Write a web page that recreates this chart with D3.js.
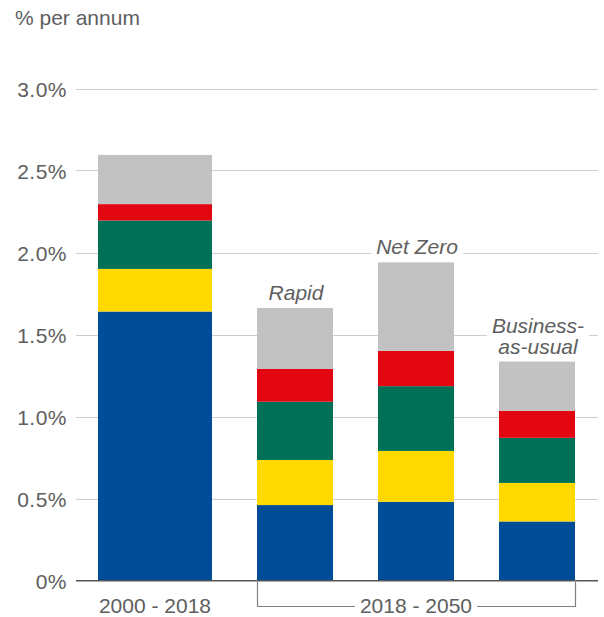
<!DOCTYPE html>
<html>
<head>
<meta charset="utf-8">
<script src="https://cdn.jsdelivr.net/npm/d3@7"></script>
<style>
  html, body { margin: 0; padding: 0; background: #fff; }
  svg { display: block; }
  text { font-family: "Liberation Sans", Arial, sans-serif; }
</style>
</head>
<body>
<svg id="chart" width="604" height="617"></svg>
<script>
// ---- data ----
const categories = ["2000 - 2018", "Rapid", "Net Zero", "Business-as-usual"];
const seriesNames = ["s1", "s2", "s3", "s4", "s5"];
const s1Values = [1.64, 0.46, 0.48, 0.36];   // blue
const s2Values = [0.26, 0.275, 0.31, 0.235]; // yellow
const s3Values = [0.295, 0.355, 0.395, 0.275]; // green
const s4Values = [0.10, 0.20, 0.215, 0.165]; // red
const s5Values = [0.30, 0.372, 0.54, 0.30];  // grey
const seriesColors = ["#004C97", "#FFD900", "#007157", "#E20613", "#C2C2C2"];
const yTicks = [0, 0.5, 1.0, 1.5, 2.0, 2.5, 3.0];
const yTickLabels = ["0%", "0.5%", "1.0%", "1.5%", "2.0%", "2.5%", "3.0%"];
const scenarioLabels = [[], ["Rapid"], ["Net Zero"], ["Business-", "as-usual"]];
const periodLabels = ["2000 - 2018", "2018 - 2050"];
const periodGroups = [[0], [1, 2, 3]];
const unitLabel = "% per annum";

// ---- build table ----
const allValues = [s1Values, s2Values, s3Values, s4Values, s5Values];
const table = categories.map((c, i) => {
  const row = { category: c };
  seriesNames.forEach((s, j) => row[s] = allValues[j][i]);
  return row;
});
const stacked = d3.stack().keys(seriesNames)(table);

// ---- layout ----
const textColor = "#5e5e5e";
const svg = d3.select("#chart");
const gridLeft = 76, gridRight = 598;
const y = d3.scaleLinear().domain([0, 3]).range([580.5, 88.5]);
const x = d3.scaleBand().domain(categories).range([136, 575]).paddingInner(45 / 121).paddingOuter(0);
const bw = x.bandwidth();
// first (historical) bar is wider and shifted left
const barGeom = (cat, i) => {
  if (i === 0) { const cx = x(cat) + bw / 2 - 19; const w = bw * 1.5; return [cx - w / 2, w]; }
  return [x(cat), bw];
};

// gridlines
svg.append("g").selectAll("line").data(yTicks.filter(t => t > 0)).join("line")
  .attr("x1", gridLeft).attr("x2", gridRight)
  .attr("y1", d => Math.round(y(d)) + 0.5).attr("y2", d => Math.round(y(d)) + 0.5)
  .attr("stroke", "#CDCDCD").attr("stroke-width", 1);

// y axis labels
const yAxis = d3.axisLeft(y).tickValues(yTicks).tickFormat((d, i) => yTickLabels[i]).tickSize(0).tickPadding(0);
const yg = svg.append("g").attr("transform", "translate(67,0)").call(yAxis);
yg.select(".domain").remove();
yg.selectAll("text").attr("font-family", "Liberation Sans, Arial, sans-serif")
  .attr("font-size", 21).attr("fill", textColor).attr("dy", "0.36em").attr("letter-spacing", 0.5);

// unit label
svg.append("text").attr("x", 15).attr("y", 25).attr("font-size", 21).attr("fill", textColor).text(unitLabel);

// bars
svg.append("g").selectAll("g").data(stacked).join("g")
  .attr("fill", (d, i) => seriesColors[i])
  .selectAll("rect").data(d => d).join("rect")
  .attr("x", (d, i) => barGeom(d.data.category, i)[0])
  .attr("width", (d, i) => barGeom(d.data.category, i)[1])
  .attr("y", d => y(d[1]))
  .attr("height", d => y(d[0]) - y(d[1]));

// scenario labels with white background
const totals = table.map(r => d3.sum(seriesNames, s => r[s]));
scenarioLabels.forEach((lines, i) => {
  if (!lines.length) return;
  const [bx, w] = barGeom(categories[i], i);
  const cx = bx + w / 2 + 1;
  const baseLast = y(totals[i]) - 8;
  const g = svg.append("g");
  const t = g.append("text").attr("text-anchor", "middle").attr("font-size", 21)
    .attr("font-style", "italic").attr("fill", textColor);
  lines.forEach((l, k) => {
    t.append("tspan").attr("x", cx).attr("y", baseLast - (lines.length - 1 - k) * 21).text(l);
  });
  const bb = t.node().getBBox();
  g.insert("rect", "text").attr("x", bb.x - 5).attr("y", bb.y).attr("width", bb.width + 10)
    .attr("height", bb.height).attr("fill", "#fff");
});

// baseline axis
svg.append("line").attr("x1", gridLeft).attr("x2", gridRight)
  .attr("y1", y(0) + 0.3).attr("y2", y(0) + 0.3)
  .attr("stroke", "#555").attr("stroke-width", 1.6);

// period labels
periodGroups.forEach((grp, gi) => {
  const geoms = grp.map(i => barGeom(categories[i], i));
  const left = geoms[0][0], right = geoms[geoms.length - 1][0] + geoms[geoms.length - 1][1];
  const cx = (left + right) / 2;
  const t = svg.append("text").attr("x", cx).attr("y", 613).attr("text-anchor", "middle")
    .attr("font-size", 21).attr("fill", textColor).text(periodLabels[gi]);
  if (grp.length > 1) {
    const bb = t.node().getBBox();
    const by = 606.5, top = 582;
    const path = d3.path();
    path.moveTo(left + 0.5, top); path.lineTo(left + 0.5, by); path.lineTo(bb.x - 5, by);
    path.moveTo(bb.x + bb.width + 5, by); path.lineTo(right + 0.5, by); path.lineTo(right + 0.5, top);
    svg.append("path").attr("d", path.toString()).attr("fill", "none")
      .attr("stroke", "#808080").attr("stroke-width", 1.2);
  }
});
</script>
</body>
</html>
